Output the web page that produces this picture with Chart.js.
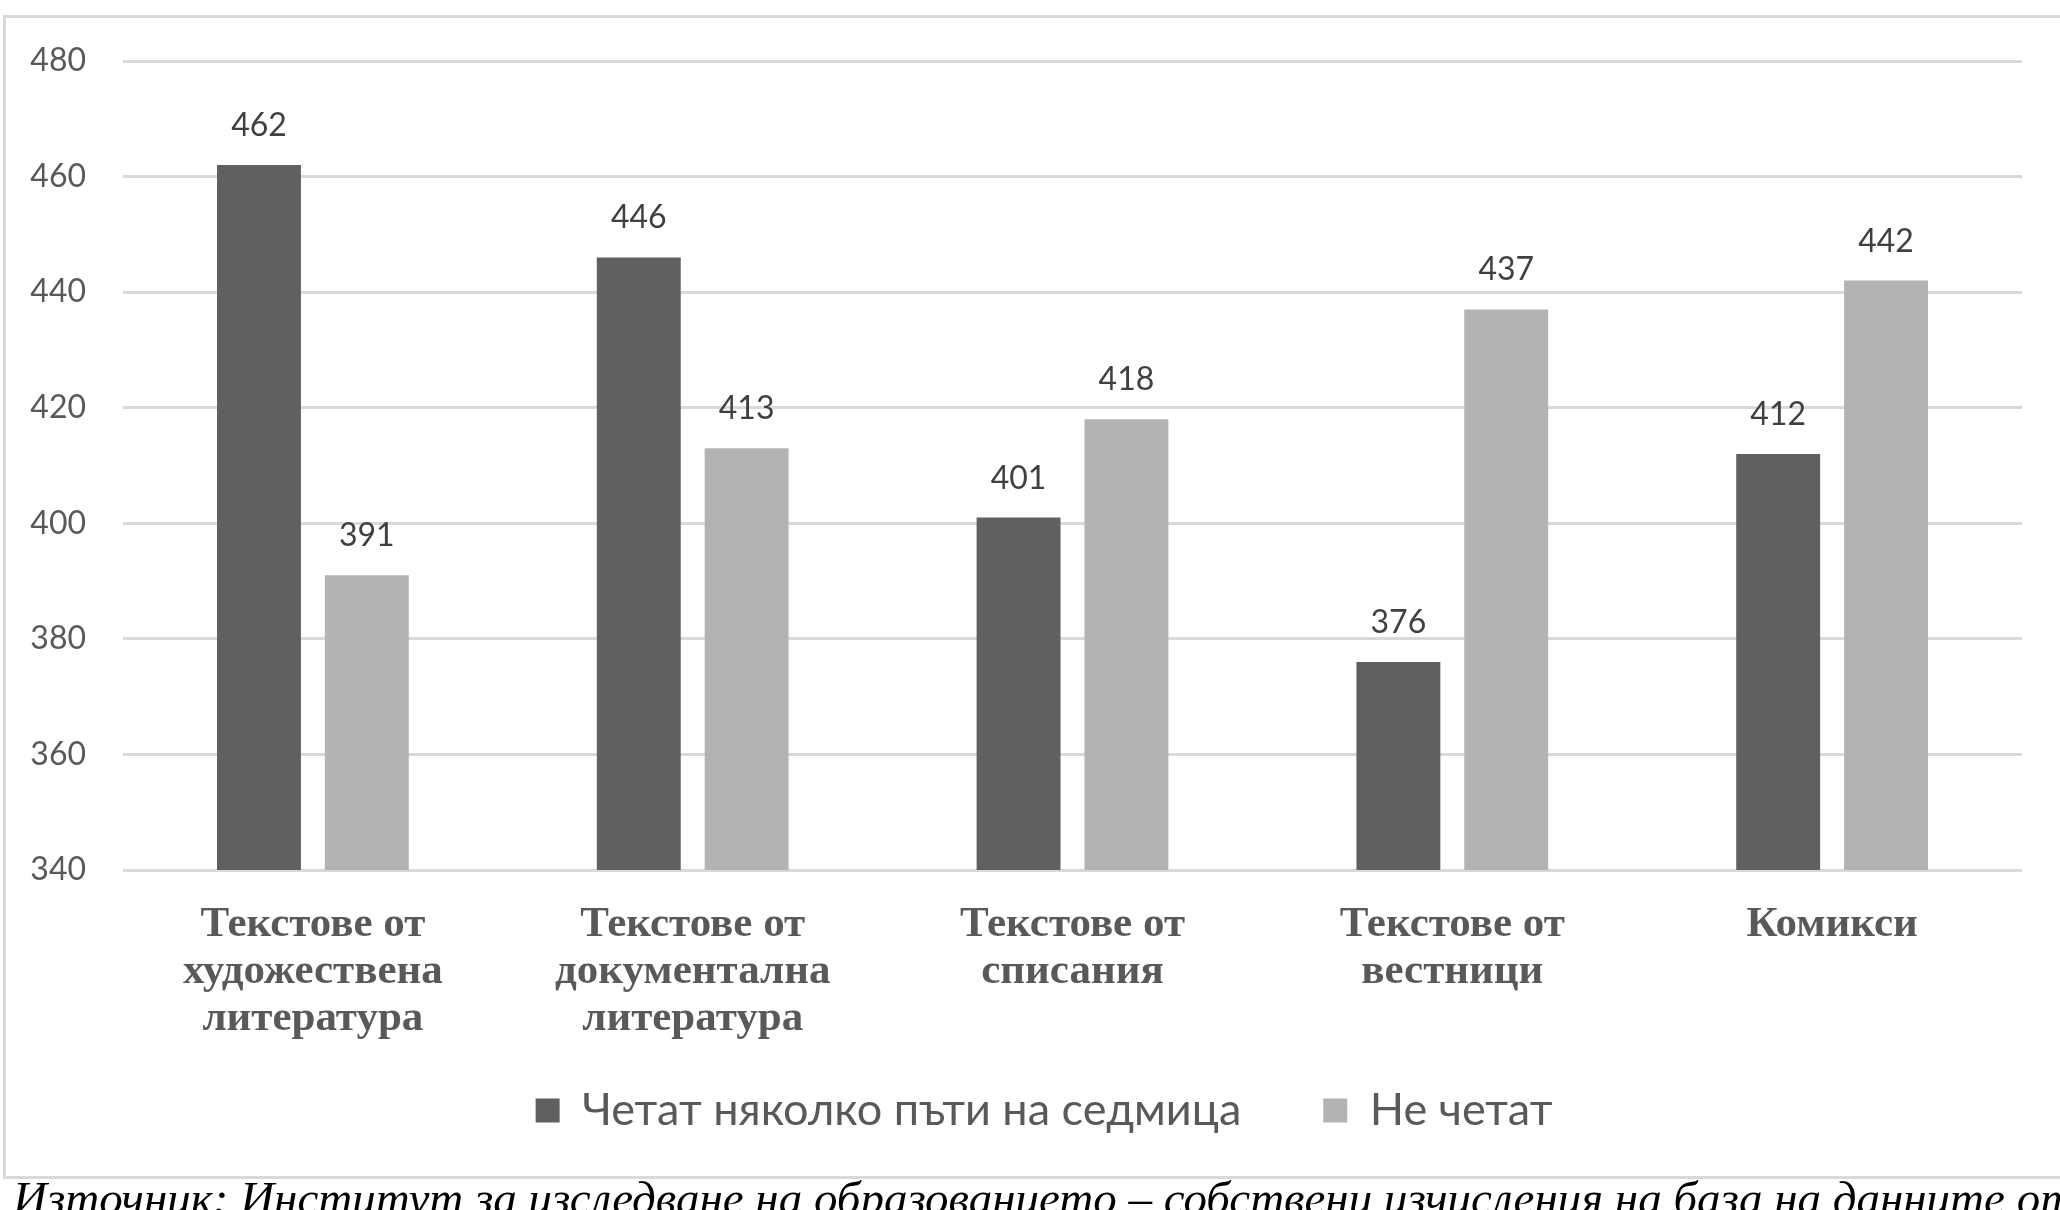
<!DOCTYPE html>
<html>
<head>
<meta charset="utf-8">
<script src="https://cdn.jsdelivr.net/npm/chart.js@4"></script>
<style>
  html, body { margin: 0; padding: 0; background: #ffffff; overflow: hidden; }
  body { width: 2060px; height: 1210px; position: relative; }
  #frame { position: absolute; left: 3px; top: 15px; width: 2200px; height: 1164px;
           box-sizing: border-box; border: 3px solid #d9d9d9; }
  #c { position: absolute; left: 0; top: 0; }
  #source { position: absolute; left: 13px; top: 1175px; white-space: nowrap;
            font-family: "Liberation Serif", "Times New Roman", serif; font-style: italic;
            font-size: 47px; line-height: 1; color: #000; }
</style>
</head>
<body>
<div id="frame"></div>
<canvas id="c" width="2060" height="1210"></canvas>
<div id="source">Източник: Институт за изследване на образованието – собствени изчисления на база на данните от</div>
<script>
const categories = [
  ["Текстове от", "художествена", "литература"],
  ["Текстове от", "документална", "литература"],
  ["Текстове от", "списания"],
  ["Текстове от", "вестници"],
  "Комикси"
];
const seriesNames = ["Четат няколко пъти на седмица", "Не четат"];
const readSeveralTimesWeek = [462, 446, 401, 376, 412];
const doNotRead = [391, 413, 418, 437, 442];
const yTicks = { min: 340, max: 480, step: 20 };

const valueLabels = {
  id: 'valueLabels',
  afterDatasetsDraw(chart) {
    const ctx = chart.ctx;
    ctx.save();
    ctx.font = '32px Lato';
    ctx.fillStyle = '#404040';
    ctx.textAlign = 'center';
    ctx.textBaseline = 'alphabetic';
    chart.data.datasets.forEach((ds, di) => {
      const meta = chart.getDatasetMeta(di);
      meta.data.forEach((bar, i) => {
        ctx.fillText(String(ds.data[i]), bar.x, bar.y - 29);
      });
    });
    ctx.restore();
  }
};

function noClip() { return undefined; }

function draw() {
  new Chart(document.getElementById('c'), {
    type: 'bar',
    data: {
      labels: categories,
      datasets: [
        { label: seriesNames[0], data: readSeveralTimesWeek, backgroundColor: '#606060' },
        { label: seriesNames[1], data: doNotRead, backgroundColor: '#b3b3b3' }
      ]
    },
    options: {
      responsive: false,
      devicePixelRatio: 1,
      animation: false,
      categoryPercentage: 0.568,
      barPercentage: 0.778,
      layout: { padding: { left: 66, right: 38, top: 61, bottom: 67 } },
      plugins: {
        tooltip: { enabled: false },
        legend: {
          position: 'bottom',
          labels: {
            font: { family: 'Lato', size: 45 },
            color: '#595959',
            boxWidth: 24,
            boxHeight: 24,
            padding: 82
          }
        }
      },
      scales: {
        x: {
          grid: { display: false, drawTicks: false },
          border: { display: false },
          ticks: {
            padding: 31,
            color: '#595959',
            font: { family: 'Liberation Serif', size: 43, weight: 'bold', lineHeight: 1.1 },
            maxRotation: 0, autoSkip: false
          },
          afterFit(s) {
            s.height = 136;
            s._computeLabelArea = noClip;
          }
        },
        y: {
          min: yTicks.min, max: yTicks.max,
          grid: { color: '#d9d9d9', lineWidth: 3, drawTicks: false },
          border: { display: false },
          ticks: {
            stepSize: yTicks.step,
            padding: 37,
            color: '#595959',
            font: { family: 'Lato', size: 32 }
          },
          afterFit(s) {
            s.width = 57;
            s._computeLabelArea = noClip;
          }
        }
      }
    },
    plugins: [valueLabels]
  });
}

const fontLoads = [
  document.fonts.load('32px Lato'),
  document.fonts.load('45px Lato'),
  document.fonts.load('bold 43px "Liberation Serif"'),
  document.fonts.load('italic 47px "Liberation Serif"')
];
Promise.all(fontLoads).then(draw, draw);
</script>
</body>
</html>
